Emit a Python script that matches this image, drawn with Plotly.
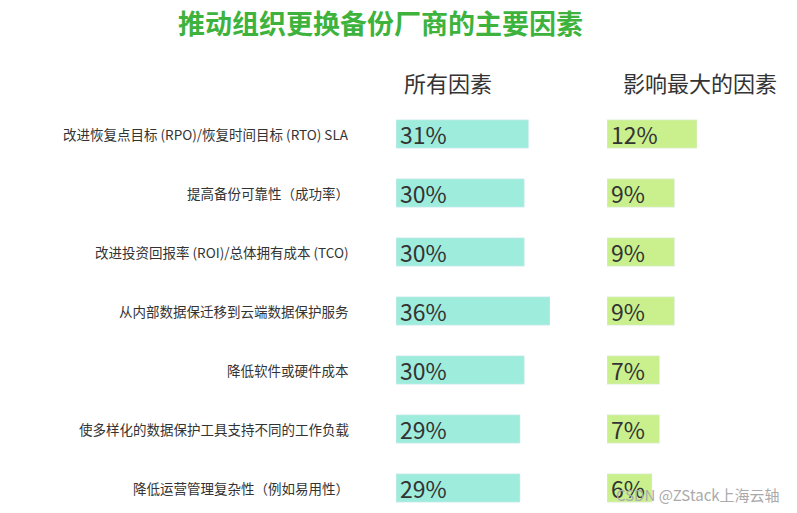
import plotly.graph_objects as go

factors = ["改进恢复点目标 (RPO)/恢复时间目标 (RTO) SLA", "提高备份可靠性（成功率）",
           "改进投资回报率 (ROI)/总体拥有成本 (TCO)", "从内部数据保迁移到云端数据保护服务",
           "降低软件或硬件成本", "使多样化的数据保护工具支持不同的工作负载", "降低运营管理复杂性（例如易用性）"]
all_factors = [31, 30, 30, 36, 30, 29, 29]
top_factor = [12, 9, 9, 9, 7, 7, 6]
idx = list(range(len(factors)))

W, H = 797, 513
OFF = 8  # page body margin
fig = go.Figure()
fig.add_trace(go.Bar(x=all_factors, y=idx, orientation="h", marker_color="#9eecdc",
                     width=0.48, xaxis="x", yaxis="y", hoverinfo="skip"))
fig.add_trace(go.Bar(x=top_factor, y=idx, orientation="h", marker_color="#caf08e",
                     width=0.48, xaxis="x2", yaxis="y", hoverinfo="skip"))

def px(x):
    return (x - OFF) / W

def py(y):
    return 1 - (y - OFF) / H

ann = []
for i, (a, b, lab) in enumerate(zip(all_factors, top_factor, factors)):
    ann.append(dict(x=0, y=i, xref="x", yref="y", text=f"{a}%", showarrow=False,
                    xanchor="left", yanchor="middle", xshift=2, font=dict(size=23, color="#333")))
    ann.append(dict(x=0, y=i, xref="x2", yref="y", text=f"{b}%", showarrow=False,
                    xanchor="left", yanchor="middle", xshift=2, font=dict(size=23, color="#333")))
    ann.append(dict(x=px(351), y=i, xref="paper", yref="y", text=lab, showarrow=False,
                    xanchor="right", yanchor="middle", font=dict(size=13.5, color="#333")))
ann += [
    dict(x=px(380), y=py(22), xref="paper", yref="paper", text="<b>推动组织更换备份厂商的主要因素</b>",
         showarrow=False, xanchor="center", yanchor="middle", font=dict(size=27, color="#3db33d")),
    dict(x=px(448), y=py(82), xref="paper", yref="paper", text="所有因素",
         showarrow=False, xanchor="center", yanchor="middle", font=dict(size=22, color="#333")),
    dict(x=px(700), y=py(82), xref="paper", yref="paper", text="影响最大的因素",
         showarrow=False, xanchor="center", yanchor="middle", font=dict(size=22, color="#333")),
    dict(x=px(782), y=py(494), xref="paper", yref="paper", text="CSDN @ZStack上海云轴",
         showarrow=False, xanchor="right", yanchor="middle", font=dict(size=15, color="#aaa")),
]

y0 = -(134 - OFF) / 59.0
y1 = 6 + (H - (488 - OFF)) / 59.0
fig.update_layout(
    width=W, height=H, margin=dict(l=0, r=0, t=0, b=0),
    paper_bgcolor="white", plot_bgcolor="white", showlegend=False,
    font=dict(family="Noto Sans CJK SC"),
    xaxis=dict(domain=[px(396), px(550)], range=[0, 36], visible=False),
    xaxis2=dict(domain=[px(607), px(697)], range=[0, 12], visible=False),
    yaxis=dict(domain=[0, 1], range=[y1, y0], visible=False),
    annotations=ann,
)
fig.write_html("out.html")
